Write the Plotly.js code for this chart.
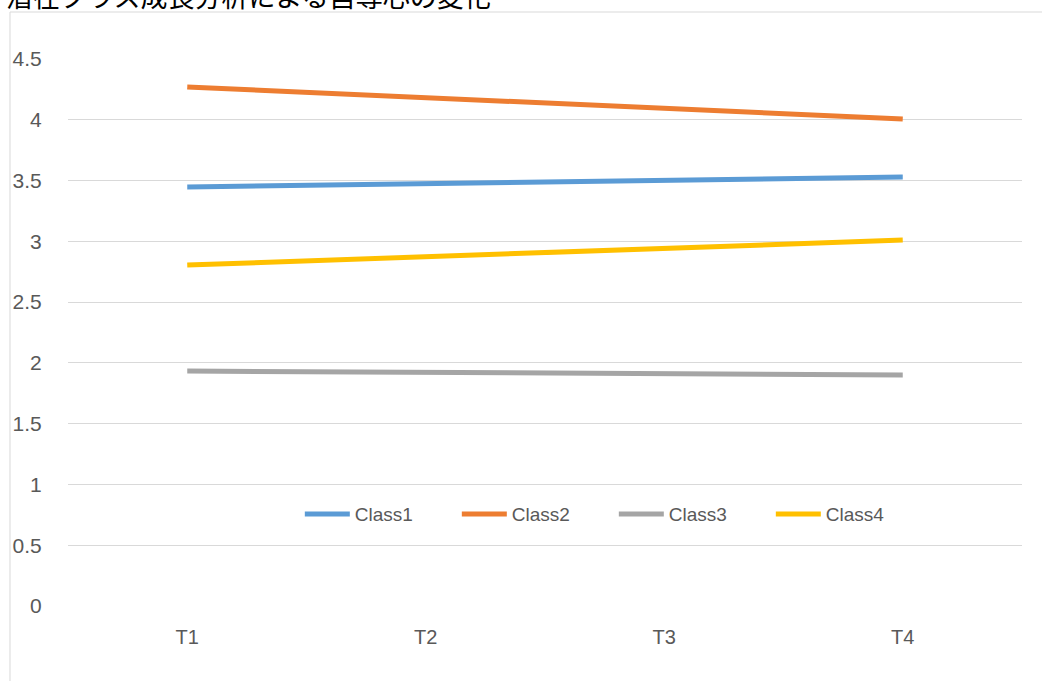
<!DOCTYPE html>
<html>
<head>
<meta charset="utf-8">
<script src="https://cdn.plot.ly/plotly-3.0.1.min.js"></script>
<style>
html,body{margin:0;padding:0;background:#fff;}
#chart{width:1042px;height:681px;}
</style>
</head>
<body>
<div id="chart"></div>
<script>
const categories = ["T1", "T2", "T3", "T4"];
const class1 = [3.447, 3.474, 3.502, 3.529];
const class2 = [4.27, 4.182, 4.094, 4.006];
const class3 = [1.933, 1.922, 1.911, 1.900];
const class4 = [2.805, 2.873, 2.942, 3.010];
const seriesNames = ["Class1", "Class2", "Class3", "Class4"];
const seriesValues = [class1, class2, class3, class4];
const colors = ["#5B9BD5", "#ED7D31", "#A5A5A5", "#FFC000"];
const yTicks = [0, 0.5, 1, 1.5, 2, 2.5, 3, 3.5, 4, 4.5];
const yTickText = ["0", "0.5", "1", "1.5", "2", "2.5", "3", "3.5", "4", "4.5"];
const titleText = "潜在クラス成長分析による自尊心の変化";

const font = "Liberation Sans, Arial, sans-serif";
const traces = seriesNames.map((n, i) => ({
  type: "scatter",
  mode: "lines",
  name: n,
  x: categories,
  y: seriesValues[i],
  line: {color: colors[i], width: 5, shape: "linear"},
  hoverinfo: "x+y+name"
}));

const layout = {
  width: 1042,
  height: 681,
  margin: {l: 68, r: 20, t: 59, b: 75, pad: 0},
  paper_bgcolor: "#ffffff",
  plot_bgcolor: "#ffffff",
  showlegend: true,
  font: {family: font, size: 20, color: "#595959"},
  xaxis: {
    type: "category",
    range: [-0.5, 3.5],
    showgrid: false,
    zeroline: false,
    showline: false,
    ticks: "outside",
    ticklen: 13,
    tickcolor: "rgba(0,0,0,0)",
    tickfont: {family: font, size: 20, color: "#595959"},
    fixedrange: true
  },
  yaxis: {
    range: [0, 4.5],
    tickvals: yTicks,
    ticktext: yTickText,
    showgrid: true,
    gridcolor: "#D9D9D9",
    gridwidth: 1,
    zeroline: false,
    showline: false,
    ticks: "outside",
    ticklen: 21,
    tickcolor: "rgba(0,0,0,0)",
    tickfont: {family: font, size: 21, color: "#595959"},
    fixedrange: true
  },
  legend: {
    orientation: "h",
    x: 0.243,
    y: 0.168,
    xanchor: "left",
    yanchor: "middle",
    bgcolor: "rgba(0,0,0,0)",
    font: {family: font, size: 19, color: "#595959"},
    entrywidth: 97,
    entrywidthmode: "pixels",
    itemwidth: 45,
    tracegroupgap: 0
  },
  shapes: [
    {type: "line", xref: "paper", yref: "paper", x0: -0.0608, x1: -0.0608, y0: 1.0859, y1: -0.2, line: {color: "#D9D9D9", width: 1}},
    {type: "line", xref: "paper", yref: "paper", x0: -0.0608, x1: 1.05, y0: 1.0859, y1: 1.0859, line: {color: "#D9D9D9", width: 1}}
  ],
  annotations: [
    {text: titleText, xref: "paper", yref: "paper", x: -0.067, y: 1.117, xanchor: "left", yanchor: "middle",
     showarrow: false, font: {family: "Noto Sans CJK JP, sans-serif", size: 27, color: "#000000"}}
  ]
};

Plotly.newPlot("chart", traces, layout, {displayModeBar: false, staticPlot: true});
</script>
</body>
</html>
